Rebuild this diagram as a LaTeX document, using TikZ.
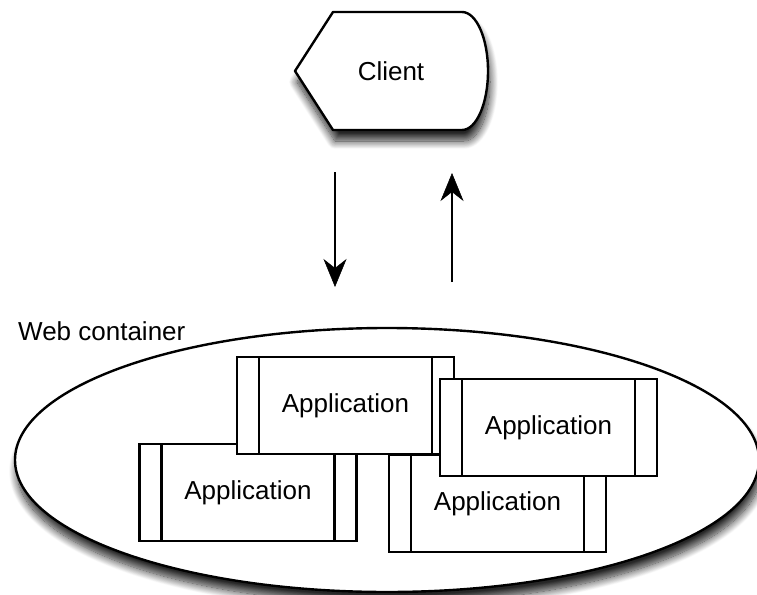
\documentclass[tikz,border=0pt]{standalone}
\usepackage{fontspec}
\setmainfont{Liberation Sans}
\usetikzlibrary{arrows.meta,shapes.geometric,shadows.blur}

\tikzset{
  label font/.style={font=\fontsize{26}{30}\selectfont},
  appbox/.style={draw, fill=white, line width=2.1pt, minimum width=217pt,
    minimum height=97pt, inner sep=0pt, label font,
    path picture={
      \draw[line width=2.1pt]
        ([xshift=22pt]path picture bounding box.north west) --
        ([xshift=22pt]path picture bounding box.south west);
      \draw[line width=2.1pt]
        ([xshift=-22pt]path picture bounding box.north east) --
        ([xshift=-22pt]path picture bounding box.south east);
    }},
  flow/.style={line width=2.2pt,
    -{Stealth[length=28pt,width=23pt,inset=9pt,line width=0.5pt,fill=black]}},
  soft shadow/.style={blur shadow={shadow xshift=2pt, shadow yshift=-11pt,
    shadow blur radius=8pt, shadow blur steps=14, shadow opacity=85}}
}

\begin{document}
\begin{tikzpicture}[x=1pt, y=-1pt]
  \useasboundingbox (0,0) rectangle (757,594);

  % the client terminal
  \path[draw, fill=white, line width=2.4pt, line join=round, soft shadow]
    (295,71) -- (333,12) -- (462,12)
    .. controls (476.4,12) and (488,38.4) .. (488,71)
    .. controls (488,103.6) and (476.4,130) .. (462,130)
    -- (333,130) -- cycle;
  \node[label font] (client) at (391,71) {Client};

  % request and response
  \coordinate (reqA) at (335,172);
  \coordinate (reqB) at (335,287);
  \coordinate (resA) at (452,282);
  \coordinate (resB) at (452,173);
  \draw[flow] (reqA) -- (reqB);
  \draw[flow] (resA) -- (resB);

  % the web container
  \node[draw, fill=white, ellipse, line width=2.4pt, inner sep=0pt,
        minimum width=744pt, minimum height=264pt, soft shadow]
    (container) at (387,460) {};
  \node[label font, anchor=base west, inner sep=0pt] (ctitle) at (18,340) {Web container};

  % deployed applications, back to front
  \node[appbox] (app2) at (248,492.5) {Application};
  \node[appbox] (app4) at (497.5,503.5) {Application};
  \node[appbox] (app1) at (345.5,405.5) {Application};
  \node[appbox] (app3) at (548.5,427.5) {Application};
\end{tikzpicture}
\end{document}
